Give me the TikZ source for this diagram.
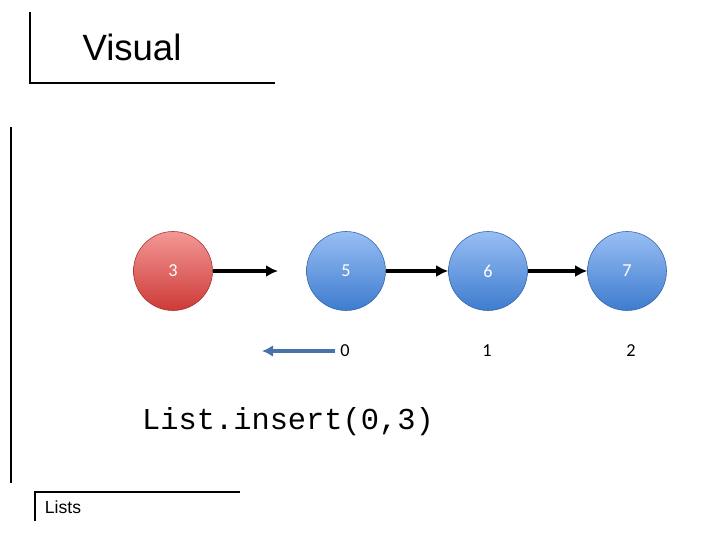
\documentclass[tikz,border=0pt]{standalone}
\usepackage{fontspec}
\setmainfont{Liberation Sans}
\newfontfamily\calfont{Carlito}
\newfontfamily\codefont{Liberation Mono}
\usetikzlibrary{arrows.meta,positioning}
\definecolor{RedTop}{RGB}{243,152,150}
\definecolor{RedBot}{RGB}{205,58,54}
\definecolor{BlueTop}{RGB}{152,190,244}
\definecolor{BlueBot}{RGB}{62,124,206}
\definecolor{ArrowBlue}{RGB}{72,114,172}

\begin{document}
\begin{tikzpicture}[
  item/.style={circle,minimum size=1.975cm,inner sep=0pt,font=\calfont\fontsize{13}{15}\selectfont,text=white},
  reditem/.style={item,top color=RedTop,bottom color=RedBot,draw=RedBot!80!black,line width=0.4pt},
  blueitem/.style={item,top color=BlueTop,bottom color=BlueBot,draw=BlueBot!80!black,line width=0.4pt},
  idx/.style={font=\calfont\fontsize{13}{15}\selectfont,inner sep=1pt},
  link/.style={-{Latex[length=3mm,width=3mm]},line width=2.2pt,black},
  frame/.style={line width=1.2pt,black}
]
  \useasboundingbox (0,0) rectangle (18,-13.5);
  % title and frame lines
  \node[font=\fontsize{26}{30}\selectfont] (title) at (3.3,-1.18) {Visual};
  \draw[frame] (0.75,-0.3) -- (0.75,-2.075) -- (6.875,-2.075);
  \draw[frame,line width=1.6pt] (0.28,-3.18) -- (0.28,-12.08);
  \draw[frame] (0.875,-13.02) -- (0.875,-12.3) -- (6.0,-12.3);
  \node[font=\fontsize{12.5}{14}\selectfont,anchor=west] (foot) at (1.0,-12.68) {Lists};
  % list items
  \node[reditem] (n3) at (4.325,-6.775) {3};
  \node[blueitem] (n5) at (8.65,-6.775) {5};
  \node[blueitem] (n6) at (12.2,-6.775) {6};
  \node[blueitem] (n7) at (15.675,-6.775) {7};
  \coordinate (gap) at (6.95,-6.775);
  \draw[link] (n3) -- (gap);
  \draw[link] (n5) -- (n6);
  \draw[link] (n6) -- (n7);
  % indices
  \node[idx] (i0) at (8.625,-8.775) {0};
  \node[idx] (i1) at (12.175,-8.775) {1};
  \node[idx] (i2) at (15.775,-8.775) {2};
  \coordinate (shift) at (6.55,-8.775);
  \draw[-{Latex[length=2.8mm,width=3mm]},line width=2.2pt,ArrowBlue] ([xshift=-2.5pt]i0.west) -- (shift);
  \node[font=\codefont\fontsize{21.6}{24}\selectfont] (call) at (7.2,-10.53) {List.insert(0,3)};
\end{tikzpicture}
\end{document}
